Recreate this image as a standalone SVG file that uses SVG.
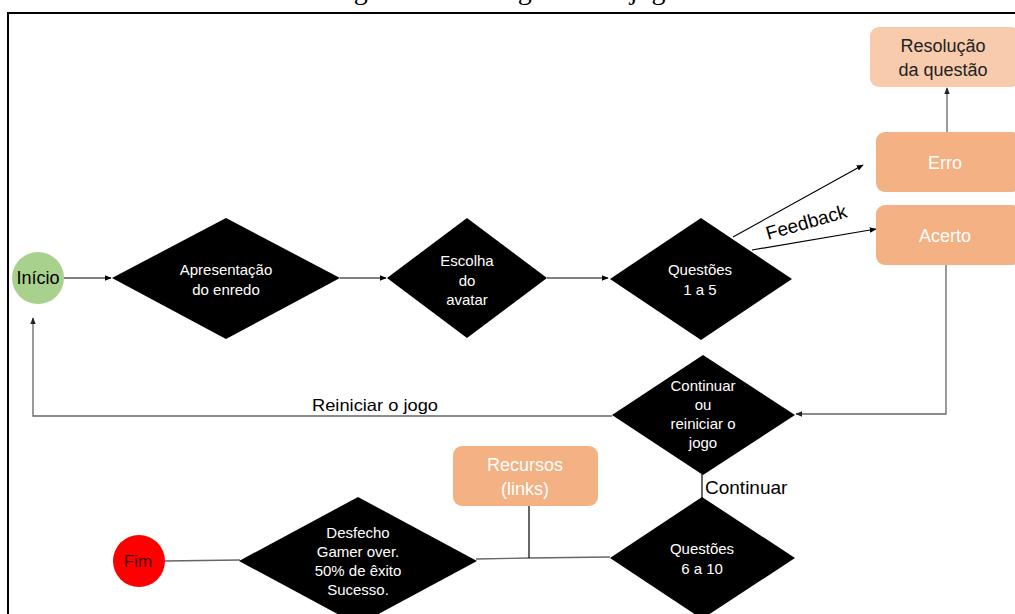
<svg xmlns="http://www.w3.org/2000/svg" width="1015" height="614" viewBox="0 0 1015 614">
<defs>
<marker id="ah" viewBox="0 0 10 10" refX="9" refY="5" markerWidth="7" markerHeight="7" orient="auto-start-reverse" markerUnits="userSpaceOnUse"><path d="M0,1 L10,5 L0,9 z" fill="#000"/></marker>
<marker id="ahg" viewBox="0 0 10 10" refX="9" refY="5" markerWidth="7" markerHeight="7" orient="auto-start-reverse" markerUnits="userSpaceOnUse"><path d="M0,1 L10,5 L0,9 z" fill="#222"/></marker>
</defs>
<style>
.t{font-family:"Liberation Sans",Arial,sans-serif;}
.dt{font-family:"Liberation Sans",Arial,sans-serif;font-size:15px;fill:#fff;text-anchor:middle;}
.bt{font-family:"Liberation Sans",Arial,sans-serif;font-size:18px;fill:#fff;text-anchor:middle;}
.dia{fill:#000;}
.box{fill:#f4b183;}
.c{stroke:#000;stroke-width:1.2;fill:none;}
.g{stroke:#666;stroke-width:1.3;fill:none;}
</style>
<rect width="1015" height="614" fill="#fff"/>
<text x="505" y="-1" font-family="Liberation Serif,serif" font-size="28" text-anchor="middle" fill="#000">Figura 4 – Fluxograma do jogo</text>
<path d="M1015,13 H8 V614" stroke="#000" stroke-width="2" fill="none"/>

<g id="connectors">
<line class="c" x1="64" y1="278" x2="111" y2="278" marker-end="url(#ah)"/>
<line class="c" x1="340" y1="278" x2="386" y2="278" marker-end="url(#ah)"/>
<line class="c" x1="547" y1="278" x2="608" y2="278" marker-end="url(#ah)"/>
<line class="c" x1="733" y1="237" x2="863" y2="165" marker-end="url(#ah)"/>
<line class="c" x1="752" y1="250" x2="876" y2="229" marker-end="url(#ah)"/>
<text class="t" x="0" y="0" font-size="19" fill="#000" transform="translate(768,240) rotate(-16)">Feedback</text>
<line class="g" x1="947" y1="132" x2="947" y2="88" marker-end="url(#ahg)"/>
<polyline class="g" points="946,265 946,414 796,414" marker-end="url(#ahg)"/>
<polyline class="g" points="612,416 33,416 33,318" marker-end="url(#ahg)"/>
<text class="t" x="375" y="411" font-size="16.5" fill="#000" text-anchor="middle" textLength="126" lengthAdjust="spacingAndGlyphs">Reiniciar o jogo</text>
<line class="c" x1="702" y1="474" x2="702" y2="498"/>
<text class="t" x="705" y="494" font-size="19" fill="#000">Continuar</text>
<polyline class="g" points="476,559 529,558 610,557"/>
<line class="c" x1="529" y1="506" x2="529" y2="558"/>
<line class="g" x1="165" y1="561" x2="240" y2="560"/>
</g>

<g id="inicio">
<circle cx="38" cy="278" r="26" fill="#a9d18e"/>
<text class="t" x="38" y="284" font-size="18" fill="#000" text-anchor="middle">Início</text>
</g>
<g id="apresentacao">
<polygon class="dia" points="226,218 340,278 226,339 112,278"/>
<text class="dt" x="226" y="275">Apresentação</text>
<text class="dt" x="226" y="295">do enredo</text>
</g>
<g id="avatar">
<polygon class="dia" points="467,218 547,278 467,338 387,278"/>
<text class="dt" x="467" y="266">Escolha</text>
<text class="dt" x="467" y="286">do</text>
<text class="dt" x="467" y="305">avatar</text>
</g>
<g id="questoes1">
<polygon class="dia" points="701,218 792,279 701,340 610,279"/>
<text class="dt" x="700" y="275">Questões</text>
<text class="dt" x="700" y="295">1 a 5</text>
</g>
<g id="resolucao">
<rect x="870" y="27" width="150" height="60" rx="9" fill="#f8cbad"/>
<text class="t" x="943" y="52" font-size="18" fill="#222" text-anchor="middle">Resolução</text>
<text class="t" x="943" y="76" font-size="18" fill="#222" text-anchor="middle">da questão</text>
</g>
<g id="erro">
<rect class="box" x="876" y="132" width="145" height="60" rx="9"/>
<text class="bt" x="945" y="169">Erro</text>
</g>
<g id="acerto">
<rect class="box" x="876" y="205" width="145" height="60" rx="9"/>
<text class="bt" x="945" y="242">Acerto</text>
</g>
<g id="continuar">
<polygon class="dia" points="703,355 795,415 703,475 612,415"/>
<text class="dt" x="703" y="391">Continuar</text>
<text class="dt" x="703" y="410">ou</text>
<text class="dt" x="703" y="429">reiniciar o</text>
<text class="dt" x="703" y="448">jogo</text>
</g>
<g id="recursos">
<rect class="box" x="453" y="446" width="145" height="60" rx="9"/>
<text class="bt" x="525" y="471">Recursos</text>
<text class="bt" x="525" y="495">(links)</text>
</g>
<g id="questoes2">
<polygon class="dia" points="702,497 795,558 702,619 610,558"/>
<text class="dt" x="702" y="554">Questões</text>
<text class="dt" x="702" y="574">6 a 10</text>
</g>
<g id="desfecho">
<polygon class="dia" points="358,497 477,561 358,625 239,561"/>
<text class="dt" x="358" y="538">Desfecho</text>
<text class="dt" x="358" y="557">Gamer over.</text>
<text class="dt" x="358" y="576">50% de êxito</text>
<text class="dt" x="358" y="595">Sucesso.</text>
</g>
<g id="fim">
<circle cx="139" cy="561" r="26" fill="#ff0000"/>
<text class="t" x="138" y="567" font-size="17" fill="#4a0000" text-anchor="middle">Fim</text>
</g>
</svg>
